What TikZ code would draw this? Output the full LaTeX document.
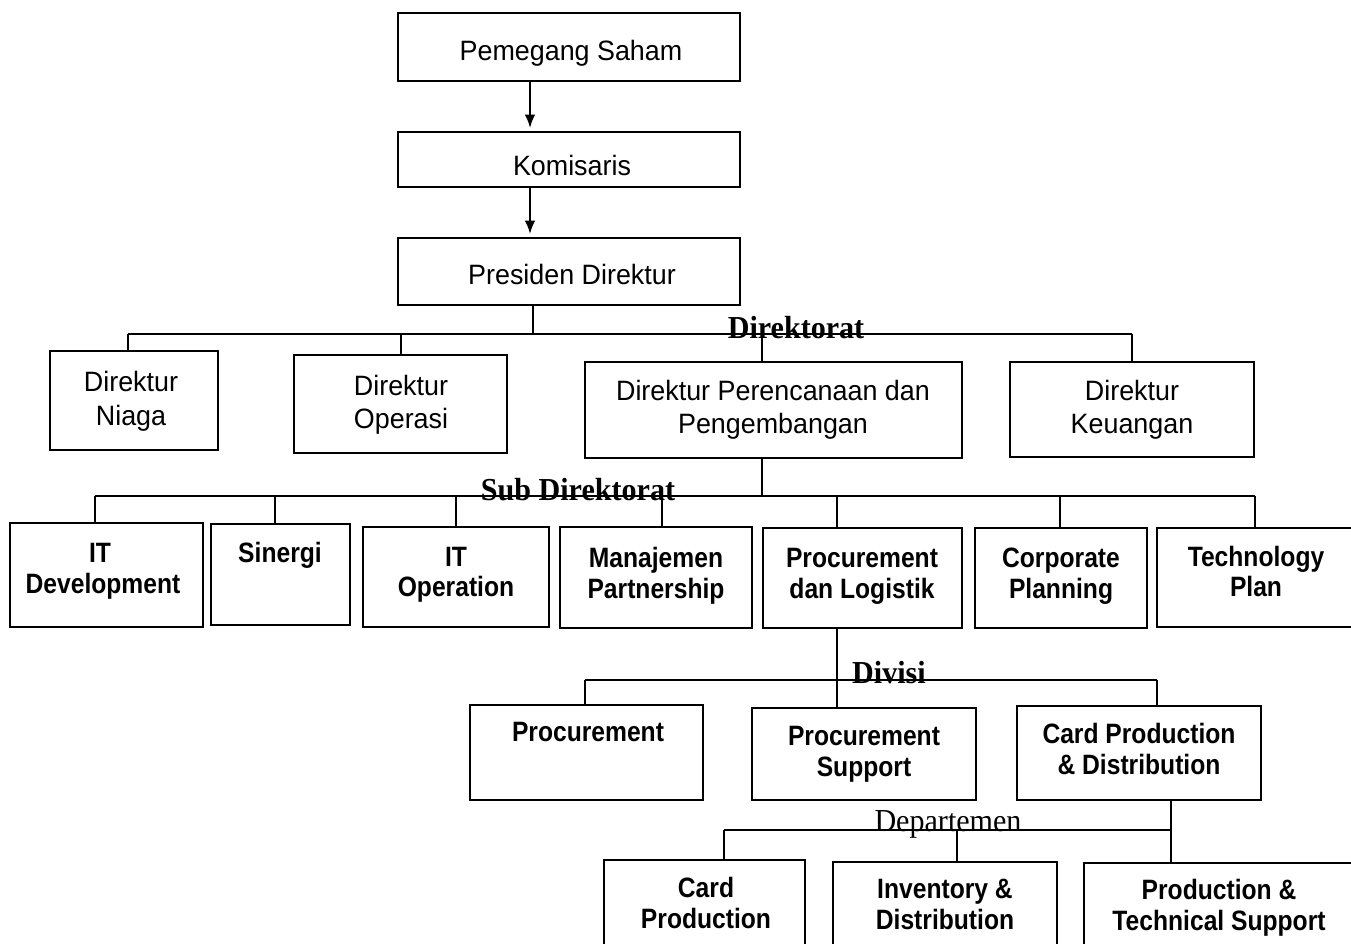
\documentclass[tikz,border=0pt]{standalone}
\usepackage{fontspec}
\setmainfont{Liberation Sans}
\newfontfamily\boxfont{Liberation Sans}[FakeStretch=0.96]
\newfontfamily\narrowfont{Liberation Sans}[FakeStretch=0.88]
\newfontfamily\tierfont{Liberation Serif}[FakeStretch=0.94]
\usetikzlibrary{arrows.meta}

\tikzset{
  box/.style={draw, line width=2pt, fill=white, inner sep=0pt, outer sep=0pt},
  link/.style={line width=1.6pt},
  flow/.style={line width=1.6pt, -{Latex[length=10pt,width=8pt]}, shorten >=3pt},
  rtxt/.style={anchor=base, inner sep=0pt, font=\boxfont\fontsize{21}{24}\selectfont},
  btxt/.style={anchor=base, inner sep=0pt, font=\narrowfont\bfseries\fontsize{21}{24}\selectfont},
  tier/.style={anchor=base, inner sep=0pt, font=\tierfont\bfseries\fontsize{24}{28}\selectfont},
  tierlight/.style={anchor=base, inner sep=0pt, font=\tierfont\fontsize{24}{28}\selectfont},
}

% \orgbox{name}{x1}{y1}{x2}{y2}: an empty framed box between two corners
\newcommand{\orgbox}[5]{%
  \node[box, minimum width={(#4-#2)*0.75pt}, minimum height={(#5-#3)*0.75pt}]
    (#1) at ({(#2+#4)/2},{(#3+#5)/2}) {};}

\begin{document}
\begin{tikzpicture}[x=0.75pt, y=-0.75pt]
  \fill[white] (0,0) rectangle (1351,944);
  \useasboundingbox (0,0) rectangle (1351,944);

  % ---------- boxes ----------
  \orgbox{saham}{398}{13}{740}{81}
  \orgbox{komis}{398}{132}{740}{187}
  \orgbox{pres}{398}{238}{740}{305}

  \orgbox{niaga}{50}{351}{218}{450}
  \orgbox{operasi}{294}{355}{507}{453}
  \orgbox{renbang}{585}{362}{962}{458}
  \orgbox{keuangan}{1010}{362}{1254}{457}

  \orgbox{itdev}{10}{523}{203}{627}
  \orgbox{sinergi}{211}{524}{350}{625}
  \orgbox{itop}{363}{527}{549}{627}
  \orgbox{manaj}{560}{527}{752}{628}
  \orgbox{proclog}{763}{528}{962}{628}
  \orgbox{corp}{975}{528}{1147}{628}
  \orgbox{tech}{1157}{528}{1360}{627}

  \orgbox{procure}{470}{705}{703}{800}
  \orgbox{procsup}{752}{708}{976}{800}
  \orgbox{cardpd}{1017}{706}{1261}{800}

  \orgbox{cardprod}{604}{860}{805}{958}
  \orgbox{invent}{833}{862}{1057}{958}
  \orgbox{prodtech}{1084}{863}{1360}{958}

  % ---------- junction points ----------
  \coordinate (spine) at (530,100);
  \coordinate (j0) at (533,334);
  \coordinate (t-niaga) at (128,334);
  \coordinate (t-oper) at (401,334);
  \coordinate (t-renb) at (762,334);
  \coordinate (t-keu) at (1132,334);

  \coordinate (s-itdev) at (95,496);
  \coordinate (s-siner) at (275,496);
  \coordinate (s-itop) at (456,496);
  \coordinate (s-manaj) at (662,496);
  \coordinate (s-renb) at (762,496);
  \coordinate (s-proc) at (837,496);
  \coordinate (s-corp) at (1060,496);
  \coordinate (s-tech) at (1255,496);

  \coordinate (d-proc) at (585,680);
  \coordinate (d-sup) at (837,680);
  \coordinate (d-card) at (1157,680);

  \coordinate (p-card) at (724,830);
  \coordinate (p-inv) at (957,830);
  \coordinate (p-prod) at (1171,830);

  % ---------- connectors ----------
  \draw[flow] (saham.south -| spine) -- (komis.north -| spine);
  \draw[flow] (komis.south -| spine) -- (pres.north -| spine);

  \draw[link] (pres.south -| j0) -- (j0);
  \draw[link] (t-niaga) -- (t-keu);
  \draw[link] (t-niaga) -- (niaga.north -| t-niaga);
  \draw[link] (t-oper) -- (operasi.north -| t-oper);
  \draw[link] (t-renb) -- (renbang.north -| t-renb);
  \draw[link] (t-keu) -- (keuangan.north -| t-keu);

  \draw[link] (renbang.south -| s-renb) -- (s-renb);
  \draw[link] (s-itdev) -- (s-tech);
  \draw[link] (s-itdev) -- (itdev.north -| s-itdev);
  \draw[link] (s-siner) -- (sinergi.north -| s-siner);
  \draw[link] (s-itop) -- (itop.north -| s-itop);
  \draw[link] (s-manaj) -- (manaj.north -| s-manaj);
  \draw[link] (s-proc) -- (proclog.north -| s-proc);
  \draw[link] (s-corp) -- (corp.north -| s-corp);
  \draw[link] (s-tech) -- (tech.north -| s-tech);

  \draw[link] (proclog.south -| d-sup) -- (procsup.north -| d-sup);
  \draw[link] (d-proc) -- (d-card);
  \draw[link] (d-proc) -- (procure.north -| d-proc);
  \draw[link] (d-card) -- (cardpd.north -| d-card);

  \draw[link] (cardpd.south -| p-prod) -- (prodtech.north -| p-prod);
  \draw[link] (p-card) -- (p-prod);
  \draw[link] (p-card) -- (cardprod.north -| p-card);
  \draw[link] (p-inv) -- (invent.north -| p-inv);

  % ---------- level labels ----------
  \node[tier] (lbl-dir) at (796,339) {Direktorat};
  \node[tier] (lbl-sub) at (578,500) {Sub Direktorat};
  \node[tier] (lbl-div) at (889,683) {Divisi};
  \node[tierlight] (lbl-dep) at (948,831) {Departemen};

  % ---------- box texts ----------
  \node[rtxt] (saham-t) at (571,61) {Pemegang Saham};
  \node[rtxt] (komis-t) at (572,176) {Komisaris};
  \node[rtxt] (pres-t) at (572,285) {Presiden Direktur};

  \node[rtxt] (niaga-a) at (131,392) {Direktur};
  \node[rtxt] (niaga-b) at (131,425) {Niaga};
  \node[rtxt] (operasi-a) at (401,395) {Direktur};
  \node[rtxt] (operasi-b) at (401,428) {Operasi};
  \node[rtxt] (renbang-a) at (773,400) {Direktur Perencanaan dan};
  \node[rtxt] (renbang-b) at (773,433) {Pengembangan};
  \node[rtxt] (keuangan-a) at (1132,400) {Direktur};
  \node[rtxt] (keuangan-b) at (1132,433) {Keuangan};

  \node[btxt] (itdev-a) at (100,562) {IT};
  \node[btxt] (itdev-b) at (103,593) {Development};
  \node[btxt] (sinergi-a) at (280,562) {Sinergi};
  \node[btxt] (itop-a) at (456,566) {IT};
  \node[btxt] (itop-b) at (456,596) {Operation};
  \node[btxt] (manaj-a) at (656,567) {Manajemen};
  \node[btxt] (manaj-b) at (656,598) {Partnership};
  \node[btxt] (proclog-a) at (862,567) {Procurement};
  \node[btxt] (proclog-b) at (862,598) {dan Logistik};
  \node[btxt] (corp-a) at (1061,567) {Corporate};
  \node[btxt] (corp-b) at (1061,598) {Planning};
  \node[btxt] (tech-a) at (1256,566) {Technology};
  \node[btxt] (tech-b) at (1256,596) {Plan};

  \node[btxt] (procure-a) at (588,741) {Procurement};
  \node[btxt] (procsup-a) at (864,745) {Procurement};
  \node[btxt] (procsup-b) at (864,776) {Support};
  \node[btxt] (cardpd-a) at (1139,743) {Card Production};
  \node[btxt] (cardpd-b) at (1139,774) {\& Distribution};

  \node[btxt] (cardprod-a) at (706,897) {Card};
  \node[btxt] (cardprod-b) at (706,928) {Production};
  \node[btxt] (invent-a) at (945,898) {Inventory \&};
  \node[btxt] (invent-b) at (945,929) {Distribution};
  \node[btxt] (prodtech-a) at (1219,899) {Production \&};
  \node[btxt] (prodtech-b) at (1219,930) {Technical Support};
\end{tikzpicture}
\end{document}
